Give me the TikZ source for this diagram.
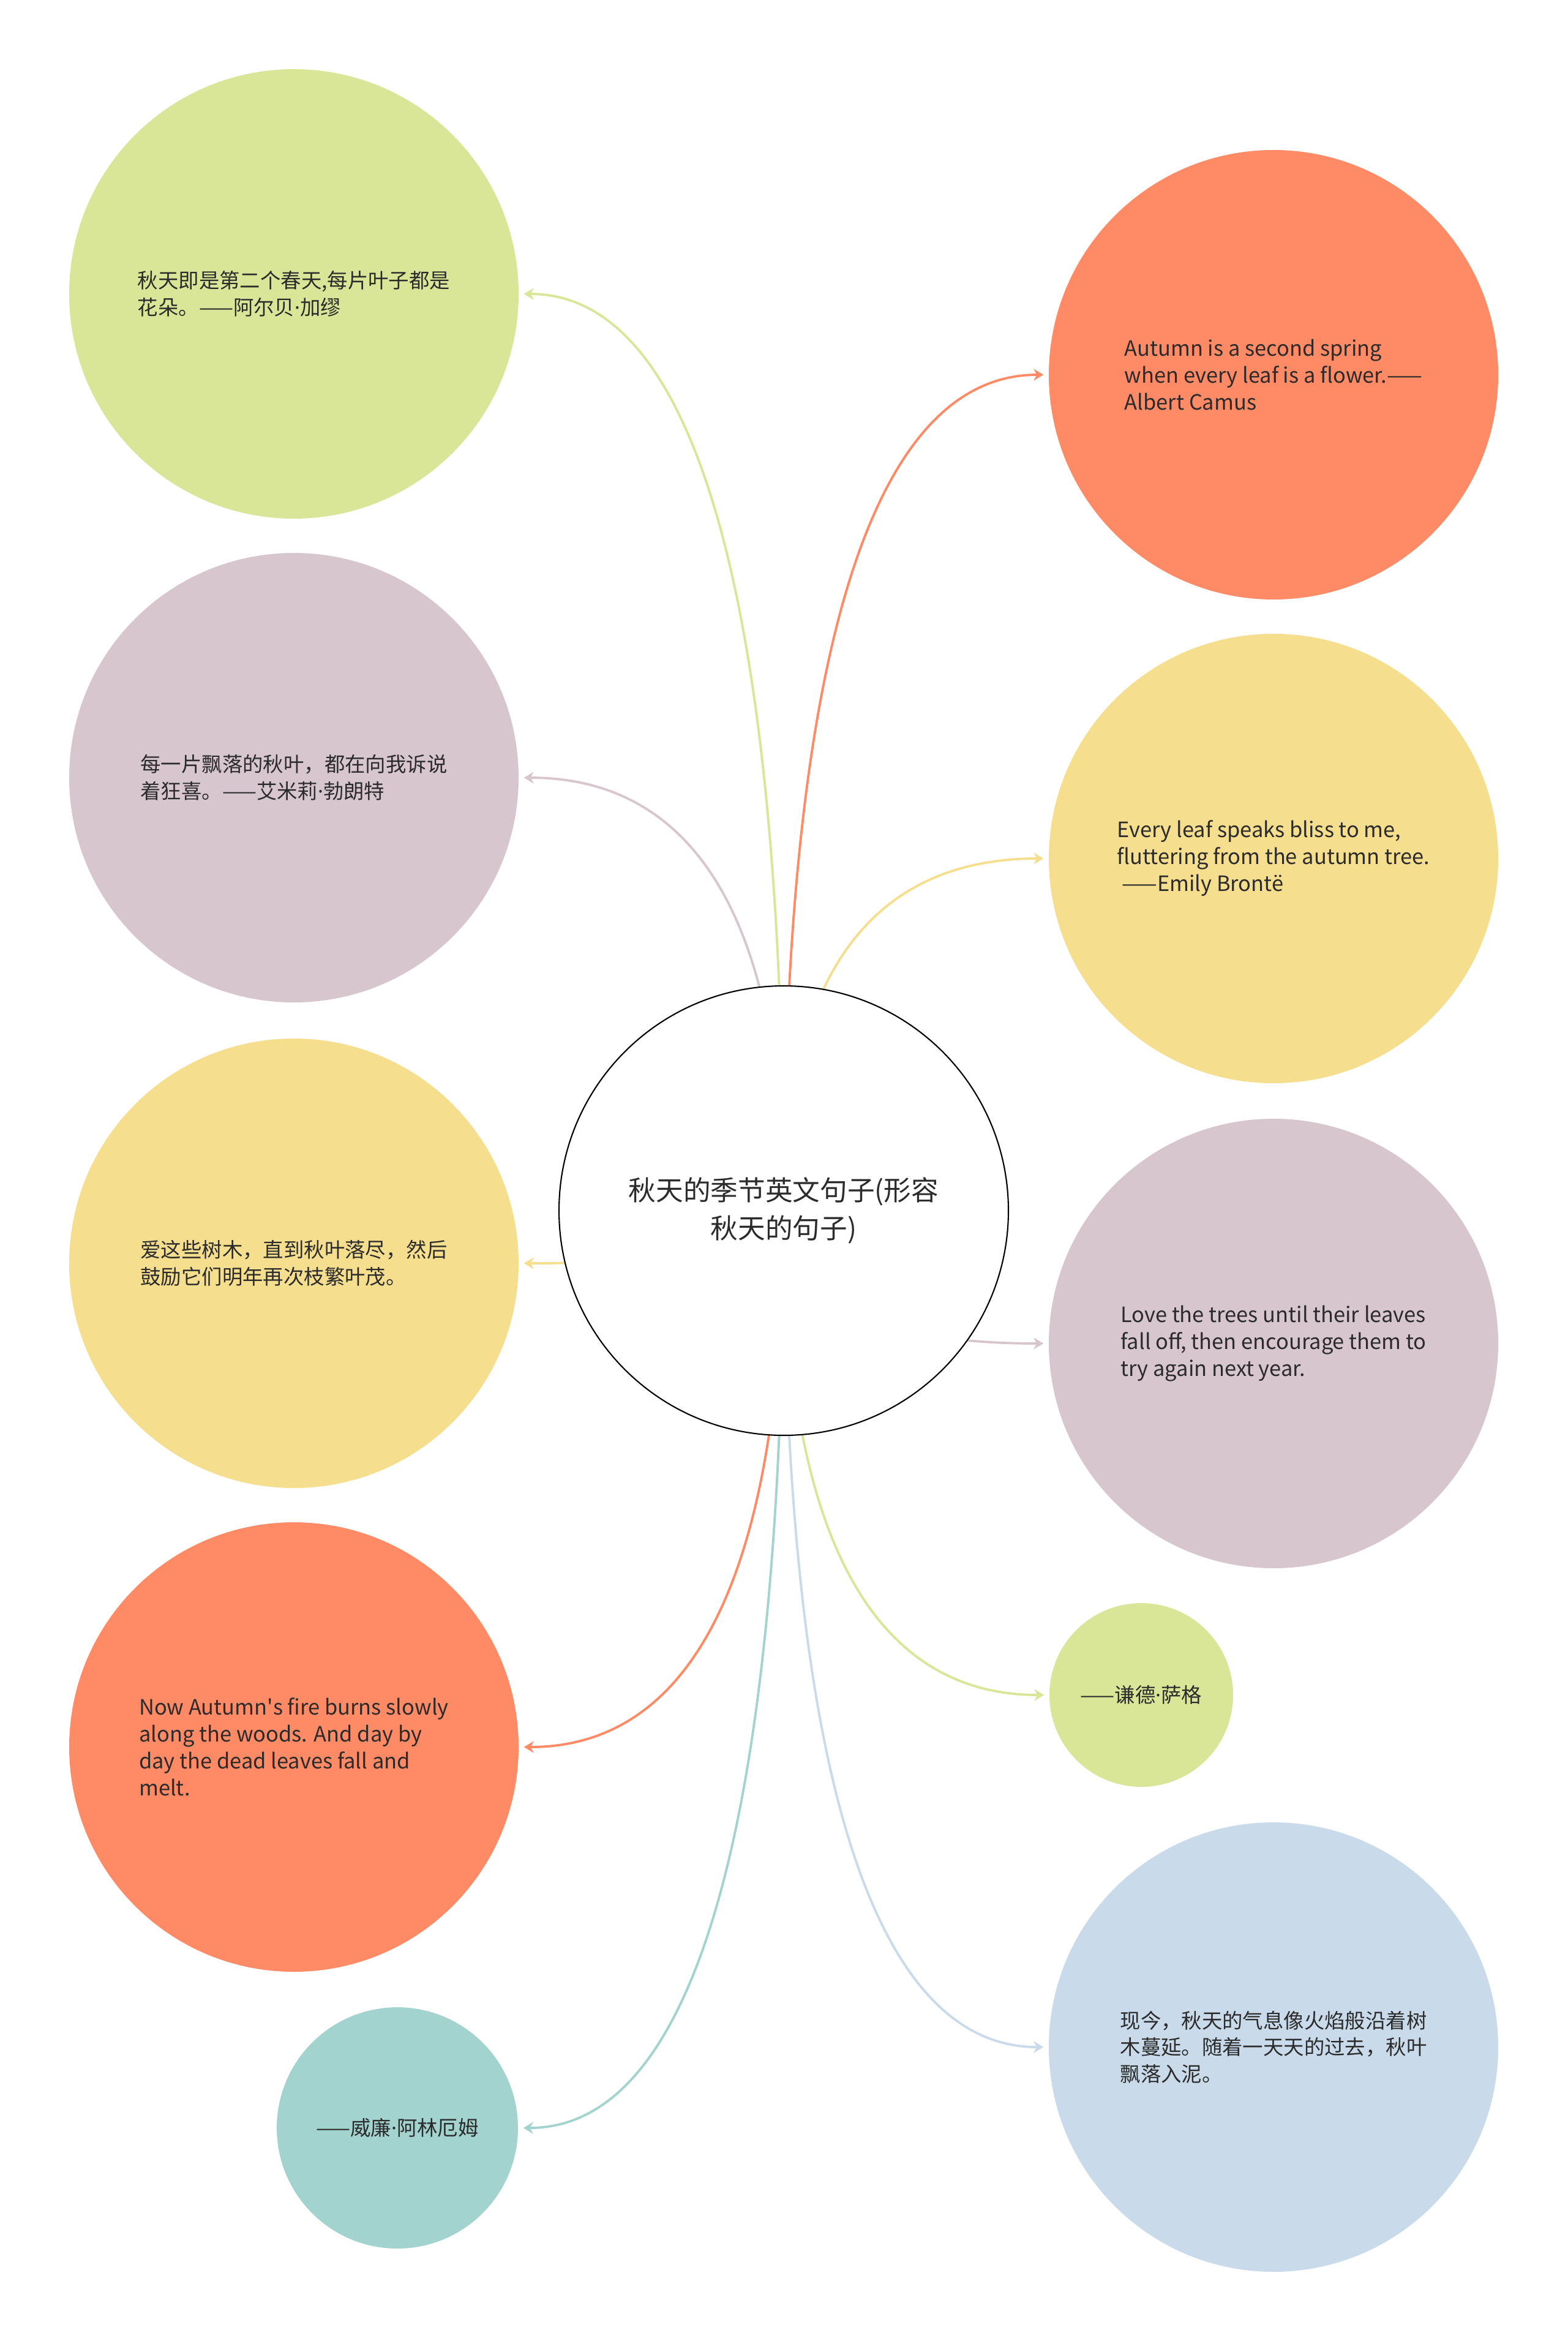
\documentclass[tikz,border=0pt]{standalone}
\usepackage{fontspec}
\setmainfont{Noto Sans CJK SC}
\newfontfamily\latim{Noto Sans}
\newcommand{\pontinho}{{\latim ·}}
\usepackage{tikz}
\usetikzlibrary{arrows.meta, calc, backgrounds}

\begin{document}
\begin{tikzpicture}[
  bolha/.style={circle, draw=none, minimum size=7.34cm, inner sep=0pt, align=left, text=texto, font=\fontsize{9.5}{12.4}\selectfont},
  ingles/.style={font=\fontsize{9.8}{12.5}\selectfont},
  raiz/.style={circle, draw=black, line width=0.6pt, fill=white, minimum size=7.34cm, inner sep=0pt, align=center, text=texto, font=\fontsize{12.7}{17.5}\selectfont},
  elo/.style={line width=1.1pt, -{Stealth[length=1.6mm, width=1.9mm, inset=0.5mm]}, shorten >=0.8mm},
  curva/.style={to path={.. controls ($(\tikztostart)!2/3!(\tikztostart |- \tikztotarget)$) and ($(\tikztotarget)!2/3!(\tikztostart |- \tikztotarget)$) .. (\tikztotarget)}}
]
% --- CORES DAS BOLHAS ---
\definecolor{verde}{HTML}{D9E698}
\definecolor{lilas}{HTML}{D8C6CE}
\definecolor{amarelo}{HTML}{F6DE8F}
\definecolor{laranja}{HTML}{FF8A66}
\definecolor{turquesa}{HTML}{A3D3CF}
\definecolor{azul}{HTML}{C9DBEA}
\definecolor{texto}{HTML}{2B2B2B}

% LAYER 0: Area da pagina
\useasboundingbox (0,0) rectangle (25.60,-38.23);

% LAYER 1: Tema central
\node[raiz] (tema) at (12.80,-19.77) {秋天的季节英文句子(形容\\秋天的句子)};

% LAYER 2: Bolhas da esquerda
\node[bolha, fill=verde] (e1) at (4.80,-4.80) {秋天即是第二个春天,每片叶子都是\\花朵。——阿尔贝\pontinho 加缪};
\node[bolha, fill=lilas] (e2) at (4.80,-12.70) {每一片飘落的秋叶，都在向我诉说\\着狂喜。——艾米莉\pontinho 勃朗特};
\node[bolha, fill=amarelo] (e3) at (4.80,-20.63) {爱这些树木，直到秋叶落尽，然后\\鼓励它们明年再次枝繁叶茂。};
\node[bolha, ingles, fill=laranja] (e4) at (4.80,-28.53) {Now Autumn\textquotesingle s fire burns slowly\\along the woods. And day by\\day the dead leaves fall and\\melt.};
\node[bolha, fill=turquesa, minimum size=3.94cm] (e5) at (6.49,-34.75) {——威廉\pontinho 阿林厄姆};

% LAYER 3: Bolhas da direita
\node[bolha, ingles, fill=laranja] (d1) at (20.80,-6.12) {Autumn is a second spring\\when every leaf is a flower.——\\Albert Camus};
\node[bolha, ingles, fill=amarelo] (d2) at (20.80,-14.02) {Every leaf speaks bliss to me,\\fluttering from the autumn tree.\\\ ——Emily Brontë};
\node[bolha, ingles, fill=lilas] (d3) at (20.80,-21.94) {Love the trees until their leaves\\fall off, then encourage them to\\try again next year.};
\node[bolha, fill=verde, minimum size=3.00cm] (d4) at (18.64,-27.68) {——谦德\pontinho 萨格};
\node[bolha, fill=azul] (d5) at (20.80,-33.43) {现今，秋天的气息像火焰般沿着树\\木蔓延。随着一天天的过去，秋叶\\飘落入泥。};

% LAYER 4: Ligacoes (atras do tema)
\begin{scope}[on background layer]
\draw[elo, color=verde] (tema.center) to[curva] (e1.east);
\draw[elo, color=lilas] (tema.center) to[curva] (e2.east);
\draw[elo, color=amarelo] (tema.center) to[curva] (e3.east);
\draw[elo, color=laranja] (tema.center) to[curva] (e4.east);
\draw[elo, color=turquesa] (tema.center) to[curva] (e5.east);
\draw[elo, color=laranja] (tema.center) to[curva] (d1.west);
\draw[elo, color=amarelo] (tema.center) to[curva] (d2.west);
\draw[elo, color=lilas] (tema.center) to[curva] (d3.west);
\draw[elo, color=verde] (tema.center) to[curva] (d4.west);
\draw[elo, color=azul] (tema.center) to[curva] (d5.west);
\end{scope}
\end{tikzpicture}
\end{document}
